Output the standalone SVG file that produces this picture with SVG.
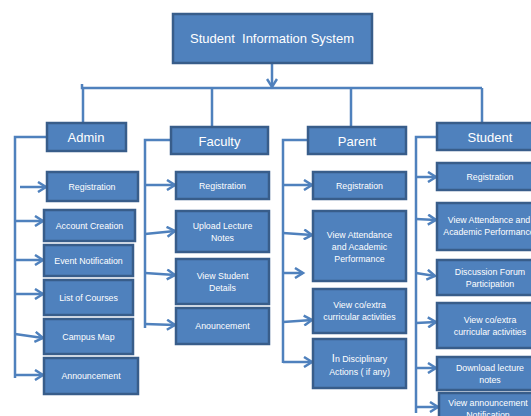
<svg xmlns="http://www.w3.org/2000/svg" width="531" height="416" viewBox="0 0 531 416">
<style>
  .box { fill: #4F81BD; stroke: #385D8A; stroke-width: 2.5; }
  .t { fill: #FFFFFF; font-family: "Liberation Sans", Arial, sans-serif; font-size: 8.8px; text-anchor: middle; }
  .h { fill: #FFFFFF; font-family: "Liberation Sans", Arial, sans-serif; font-size: 13px; text-anchor: middle; }
  .ln { fill: none; stroke: #4F81BD; stroke-width: 2.5; }
  .ar { fill: none; stroke: #4F81BD; stroke-width: 2.5; marker-end: url(#chev); }
</style>
<defs>
  <marker id="chev" markerUnits="userSpaceOnUse" markerWidth="12" markerHeight="12" refX="9" refY="6" orient="auto">
    <path d="M1,1 L9,6 L1,11" fill="none" stroke="#4F81BD" stroke-width="2.5"/>
  </marker>
</defs>
<rect width="531" height="416" fill="#FFFFFF"/>

<g id="connectors">
  <path class="ar" d="M272,63 L272,87"/>
  <path class="ln" d="M82,84 L82,88 L482,88"/>
  <path class="ln" d="M83,88 L83,123 M212,88 L212,127 M351,88 L351,127 M482,88 L482,123"/>
  <!-- Admin -->
  <path class="ln" d="M47,137 L15,137 L15,378"/>
  <path class="ar" d="M20,187 L46,187"/>
  <path class="ar" d="M15,221 L43,221"/>
  <path class="ar" d="M15,260 L43,260"/>
  <path class="ar" d="M15,294 L43,294"/>
  <path class="ar" d="M15,334 L43,338"/>
  <path class="ar" d="M15,375 L43,375"/>
  <!-- Faculty -->
  <path class="ln" d="M171,140 L145,140 L145,328"/>
  <path class="ar" d="M145,185 L175,185"/>
  <path class="ar" d="M145,234 L175,231"/>
  <path class="ar" d="M145,273 L175,275"/>
  <path class="ar" d="M145,324 L175,325"/>
  <!-- Parent -->
  <path class="ln" d="M308,140 L283,140 L283,363"/>
  <path class="ar" d="M283,185 L312,185"/>
  <path class="ar" d="M283,233 L312,235"/>
  <path class="ar" d="M283,273 L303,273"/>
  <path class="ar" d="M283,322 L312,320"/>
  <path class="ar" d="M283,362 L312,362"/>
  <!-- Student -->
  <path class="ln" d="M437,137 L416,137 L416,413"/>
  <path class="ar" d="M416,177 L436,177"/>
  <path class="ar" d="M416,219 L436,220"/>
  <path class="ar" d="M416,273 L435,276"/>
  <path class="ar" d="M416,323 L436,322"/>
  <path class="ar" d="M416,368 L436,368"/>
  <path class="ar" d="M416,407 L438,407"/>
</g>

<g id="root">
  <rect class="box" x="173" y="14" width="199" height="49"/>
  <text class="h" x="272" y="43" xml:space="preserve">Student  Information System</text>
</g>

<g id="admin">
  <rect class="box" x="47" y="123" width="79" height="28"/>
  <text class="h" x="86" y="142">Admin</text>
</g>
<g id="admin-registration">
  <rect class="box" x="47" y="172" width="91" height="29"/>
  <text class="t" x="92" y="189.5">Registration</text>
</g>
<g id="admin-account">
  <rect class="box" x="44" y="210" width="91" height="31"/>
  <text class="t" x="89.5" y="228.5">Account Creation</text>
</g>
<g id="admin-event">
  <rect class="box" x="44" y="245" width="89" height="31"/>
  <text class="t" x="88.5" y="263.5">Event Notification</text>
</g>
<g id="admin-courses">
  <rect class="box" x="44" y="280" width="89" height="35"/>
  <text class="t" x="88.5" y="300.5">List of Courses</text>
</g>
<g id="admin-map">
  <rect class="box" x="44" y="319" width="89" height="35"/>
  <text class="t" x="88.5" y="339.5">Campus Map</text>
</g>
<g id="admin-announcement">
  <rect class="box" x="44" y="358" width="94" height="36"/>
  <text class="t" x="91" y="379">Announcement</text>
</g>

<g id="faculty">
  <rect class="box" x="171" y="127" width="97" height="27"/>
  <text class="h" x="219.5" y="145.5">Faculty</text>
</g>
<g id="faculty-registration">
  <rect class="box" x="176" y="172" width="93" height="27"/>
  <text class="t" x="222.5" y="188.5">Registration</text>
</g>
<g id="faculty-upload">
  <rect class="box" x="176" y="211" width="93" height="41"/>
  <text class="t" x="222.5" y="229">Upload Lecture</text>
  <text class="t" x="222.5" y="241">Notes</text>
</g>
<g id="faculty-view">
  <rect class="box" x="176" y="259" width="93" height="45"/>
  <text class="t" x="222.5" y="279">View Student</text>
  <text class="t" x="222.5" y="291">Details</text>
</g>
<g id="faculty-announcement">
  <rect class="box" x="176" y="308" width="93" height="36"/>
  <text class="t" x="222.5" y="329">Anouncement</text>
</g>

<g id="parent">
  <rect class="box" x="308" y="127" width="98" height="27"/>
  <text class="h" x="357" y="145.5">Parent</text>
</g>
<g id="parent-registration">
  <rect class="box" x="313" y="172" width="93" height="27"/>
  <text class="t" x="359.5" y="188.5">Registration</text>
</g>
<g id="parent-attendance">
  <rect class="box" x="313" y="211" width="93" height="70"/>
  <text class="t" x="359.5" y="238">View Attendance</text>
  <text class="t" x="359.5" y="250">and Academic</text>
  <text class="t" x="359.5" y="261.5">Performance</text>
</g>
<g id="parent-activities">
  <rect class="box" x="313" y="289" width="93" height="44"/>
  <text class="t" x="359.5" y="308">View co/extra</text>
  <text class="t" x="359.5" y="320">curricular activities</text>
</g>
<g id="parent-disciplinary">
  <rect class="box" x="313" y="339" width="93" height="49"/>
  <text class="t" x="359.5" y="362"><tspan font-size="11">I</tspan>n Disciplinary</text>
  <text class="t" x="359.5" y="375">Actions ( if any)</text>
</g>

<g id="student">
  <rect class="box" x="437" y="123" width="106" height="27"/>
  <text class="h" x="490" y="141.5">Student</text>
</g>
<g id="student-registration">
  <rect class="box" x="437" y="163" width="106" height="27"/>
  <text class="t" x="490" y="179.5">Registration</text>
</g>
<g id="student-attendance">
  <rect class="box" x="437" y="203" width="106" height="47"/>
  <text class="t" x="489" y="223">View Attendance and</text>
  <text class="t" x="489" y="235">Academic Performance</text>
</g>
<g id="student-forum">
  <rect class="box" x="437" y="260" width="106" height="35"/>
  <text class="t" x="490" y="275">Discussion Forum</text>
  <text class="t" x="490" y="287">Participation</text>
</g>
<g id="student-activities">
  <rect class="box" x="437" y="303" width="106" height="45"/>
  <text class="t" x="490" y="323">View co/extra</text>
  <text class="t" x="490" y="335">curricular activities</text>
</g>
<g id="student-download">
  <rect class="box" x="437" y="357" width="106" height="33"/>
  <text class="t" x="490" y="371">Download lecture</text>
  <text class="t" x="490" y="383">notes</text>
</g>
<g id="student-announcement">
  <rect class="box" x="439" y="393" width="106" height="30"/>
  <text class="t" x="488" y="406">View announcement</text>
  <text class="t" x="488" y="418">Notification</text>
</g>
</svg>
